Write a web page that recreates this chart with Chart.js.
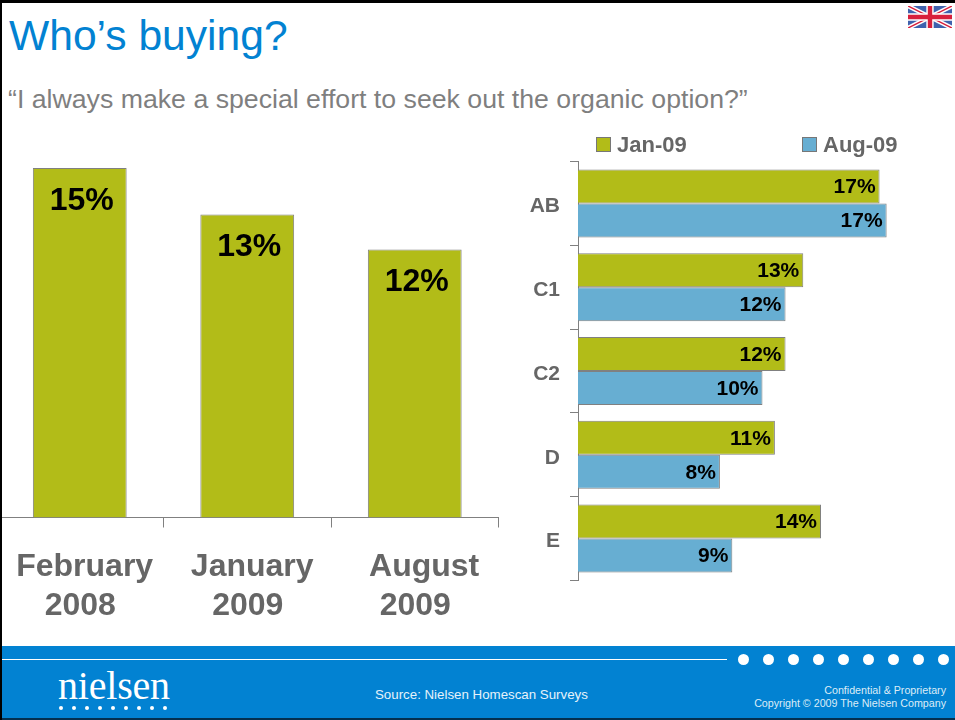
<!DOCTYPE html>
<html><head><meta charset="utf-8">
<script src="https://cdn.jsdelivr.net/npm/chart.js@4/dist/chart.umd.js"></script>
<style>
html,body{margin:0;padding:0;background:#fff;overflow:hidden}
#slide{position:relative;width:955px;height:720px;overflow:hidden;font-family:"Liberation Sans",Arial,sans-serif;background:#fff}
canvas{position:absolute}
.t{position:absolute;white-space:nowrap}
#title{left:9px;top:10px;font-size:42.6px;line-height:50px;color:#0282d2}
#sub{left:8px;top:84px;font-size:26.7px;line-height:30px;color:#7f7f7f}
#bl{position:absolute;left:0;top:0;width:2px;height:720px;background:#000}
#bt{position:absolute;left:0;top:0;width:955px;height:3px;background:#000}
#foot{position:absolute;left:0;top:646px;width:955px;height:72px;background:#0282d2}
#fb{position:absolute;left:0;top:718px;width:955px;height:2px;background:#04304f}
#rule{position:absolute;left:2px;top:659px;width:725px;height:1px;background:#fff}
.dot{position:absolute;top:654px;width:11px;height:11px;border-radius:50%;background:#fff}
.ldot{position:absolute;top:706px;width:4px;height:4px;border-radius:50%;background:#fff}
#logo{left:58px;top:663px;font-family:"Liberation Serif",serif;font-size:40px;line-height:46px;color:#fff;letter-spacing:-.2px}
#src{left:375px;top:687px;font-size:13.3px;line-height:16px;color:#e6f2fa}
#c1,#c2{right:9px;font-size:10.7px;line-height:13px;color:#dcecf7}
#c1{top:684px}#c2{top:697px}
.lg{position:absolute;top:134px;font:bold 22px/22px "Liberation Sans",sans-serif;color:#666;white-space:nowrap}
.sw{position:absolute;top:137px;width:13px;height:13px;border:1px solid #777;box-sizing:content-box}
</style></head><body>
<div id="slide">
<canvas id="left" width="504" height="490" style="left:-4px;top:140px"></canvas>
<canvas id="right" width="400" height="464" style="left:520px;top:139px"></canvas>
<div class="t" id="title">Who’s buying?</div>
<div class="t" id="sub">“I always make a special effort to seek out the organic option?”</div>
<div id="legend"></div>
<svg style="position:absolute;left:908px;top:6px" width="44" height="22" viewBox="0 0 60 30">
<rect width="60" height="30" fill="#3f62ad"/>
<path d="M0 0L60 30M60 0L0 30" stroke="#fff" stroke-width="6"/>
<path d="M0 0L60 30M60 0L0 30" stroke="#d8203c" stroke-width="2"/>
<path d="M30 0V30M0 15H60" stroke="#fff" stroke-width="10"/>
<path d="M30 0V30M0 15H60" stroke="#d8203c" stroke-width="6"/>
</svg>
<div id="foot"></div><div id="fb"></div><div id="rule"></div>
<div id="dots"></div>
<div class="t" id="logo">nielsen</div>
<div class="t" id="src">Source: Nielsen Homescan Surveys</div>
<div class="t" id="c1">Confidential &amp; Proprietary</div>
<div class="t" id="c2">Copyright © 2009 The Nielsen Company</div>
<div id="bl"></div><div id="bt"></div>
</div>
<script>
const periods = [[' February','2008'],[' January','2009'],['  August','2009']];
const overall = [15, 13, 11.5];
const segments = ['AB','C1','C2','D','E'];
const jan09 = [17, 12.7, 11.7, 11.1, 13.7];
const aug09 = [17.4, 11.7, 10.4, 8, 8.7];
const OLIVE = '#b2bc18', BLUE = '#67aed2', EDGE = '#808080', GREY = '#666666';
const FONT = '"Liberation Sans", Arial, sans-serif';

const pct = v => Math.round(v) + '%';

const topLabels = {
  id:'topLabels',
  afterDatasetsDraw(c){
    const x = c.ctx;
    x.save();
    x.font = 'bold 32px ' + FONT; x.fillStyle = '#000'; x.textAlign = 'center'; x.textBaseline = 'middle';
    c.getDatasetMeta(0).data.forEach((b,i)=> x.fillText(pct(overall[i]), b.x + 2, b.y + 33));
    x.restore();
  }
};
const endLabels = {
  id:'endLabels',
  afterDatasetsDraw(c){
    const x = c.ctx;
    x.save();
    x.font = 'bold 21px ' + FONT; x.fillStyle = '#000'; x.textAlign = 'right'; x.textBaseline = 'middle';
    c.data.datasets.forEach((d,k)=> c.getDatasetMeta(k).data.forEach((b,i)=> x.fillText(pct(d.data[i]), b.x - 4, b.y + 1)));
    x.restore();
  }
};

new Chart(document.getElementById('left'), {
  type:'bar',
  data:{labels:periods, datasets:[{label:'Organic seekers', data:overall, backgroundColor:OLIVE, borderColor:EDGE, borderWidth:1, barPercentage:.56, categoryPercentage:1}]},
  options:{
    responsive:false, animation:false,
    layout:{padding:{top:28,left:0,right:1.5,bottom:0}},
    plugins:{legend:{display:false},tooltip:{enabled:false}},
    scales:{
      y:{display:false,min:0,max:15},
      x:{afterFit(s){s.height=112.5;s.paddingLeft=0;s.paddingRight=0},
         border:{color:EDGE,width:1},
         grid:{drawOnChartArea:false,color:EDGE,tickLength:10},
         ticks:{color:GREY,font:{family:FONT,size:32,weight:'bold',lineHeight:1.22},padding:20,labelOffset:.5,maxRotation:0,autoSkip:false}}
    }
  },
  plugins:[topLabels]
});

new Chart(document.getElementById('right'), {
  type:'bar',
  data:{labels:segments, datasets:[
    {label:'Jan-09', data:jan09, backgroundColor:OLIVE, borderColor:EDGE, borderWidth:1, barPercentage:1, categoryPercentage:.81},
    {label:'Aug-09', data:aug09, backgroundColor:BLUE, borderColor:EDGE, borderWidth:1, barPercentage:1, categoryPercentage:.81}
  ]},
  options:{
    indexAxis:'y', responsive:false, animation:false,
    layout:{padding:{top:22,bottom:22,left:0,right:0}},
    plugins:{legend:{display:false},tooltip:{enabled:false}},
    scales:{
      x:{display:false,min:0,max:19.28},
      y:{afterFit(s){s.width=58},
         border:{color:EDGE,width:1},
         grid:{drawOnChartArea:false,color:EDGE,tickLength:8},
         ticks:{color:GREY,font:{family:FONT,size:21,weight:'bold'},padding:10,labelOffset:3,autoSkip:false}}
    }
  },
  plugins:[endLabels]
});

// legend built from the series
[['Jan-09',OLIVE,596,617],['Aug-09',BLUE,802,823]].forEach(([n,c,a,b])=>{
  const l=document.getElementById('legend');
  const s=document.createElement('div'); s.className='sw'; s.style.left=a+'px'; s.style.background=c; l.appendChild(s);
  const t=document.createElement('div'); t.className='lg'; t.style.left=b+'px'; t.textContent=n; l.appendChild(t);
});
// footer decoration
const dots=document.getElementById('dots');
for(let i=0;i<9;i++){const d=document.createElement('div');d.className='dot';d.style.left=(737.5+25*i)+'px';dots.appendChild(d);}
for(let i=0;i<9;i++){const d=document.createElement('div');d.className='ldot';d.style.left=(59+13*i)+'px';dots.appendChild(d);}
</script>
</body></html>
